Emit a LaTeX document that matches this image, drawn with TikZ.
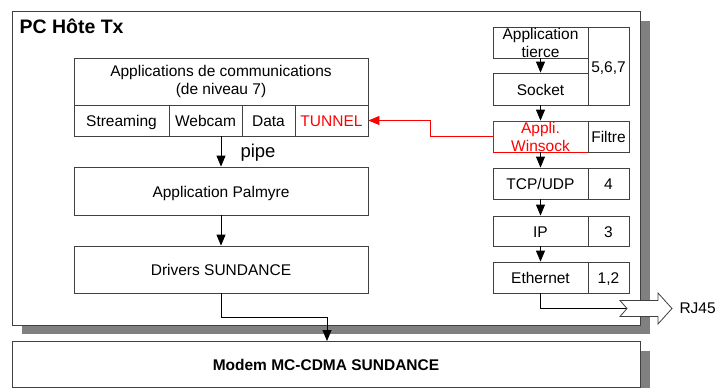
\documentclass[tikz,border=0pt]{standalone}
\usepackage{fontspec}
\setmainfont{Liberation Sans}
\usetikzlibrary{arrows.meta}

\definecolor{cadre}{HTML}{404040}
\definecolor{ombre}{HTML}{808080}

\begin{document}
\begin{tikzpicture}[x=1pt, y=-1pt,
    every node/.style={font=\fontsize{15.5}{18}\selectfont},
    boite/.style={draw=cadre, line width=0.8pt, fill=white, inner sep=0pt, align=center},
    cellule/.style={boite, text height=14pt, text depth=2pt},
    fleche/.style={-{Triangle[length=11pt,width=9pt]}, line width=0.8pt},
    lien/.style={line width=0.8pt}]
    \useasboundingbox (0,0) rectangle (716,388);

    % PC box and its shadow
    \fill[ombre] (22,21) rectangle (650,334);
    \draw[boite] (12,11) rectangle (640,325);
    \node[anchor=west, font=\bfseries\fontsize{19.5}{22}\selectfont] (titre) at (16,26) {PC Hôte Tx};

    % Modem
    \fill[ombre] (22,351) rectangle (650,388);
    \node[cellule, minimum width=628pt, minimum height=46pt, font=\bfseries\fontsize{15.5}{18}\selectfont] (modem) at (326,364) {Modem MC-CDMA SUNDANCE};

    % Left column
    \node[boite, minimum width=294pt, minimum height=47pt] (apps) at (221,81.5) {Applications de communications\\(de niveau 7)};
    \node[cellule, minimum width=95pt, minimum height=31pt] (streaming) at (121.5,120.5) {Streaming};
    \node[cellule, minimum width=73pt, minimum height=31pt] (webcam) at (205.5,120.5) {Webcam};
    \node[cellule, minimum width=53pt, minimum height=31pt] (data) at (268.5,120.5) {Data};
    \node[cellule, minimum width=73pt, minimum height=31pt, text=red] (tunnel) at (331.5,120.5) {TUNNEL};
    \node[cellule, minimum width=294pt, minimum height=48pt] (palmyre) at (221,191) {Application Palmyre};
    \node[cellule, minimum width=294pt, minimum height=47pt] (drivers) at (221,269.5) {Drivers SUNDANCE};
    \node[font=\fontsize{18.5}{20}\selectfont] (pipe) at (258,153) {pipe};

    % Right stack
    \node[boite, minimum width=95pt, minimum height=31pt] (tierce) at (540.5,42.5) {Application\\tierce};
    \node[cellule, minimum width=41pt, minimum height=78pt] (c567) at (608.5,66) {5,6,7};
    \node[cellule, minimum width=95pt, minimum height=32pt] (socket) at (540.5,89) {Socket};
    \node[boite, minimum width=95pt, minimum height=31pt, draw=red, text=red] (winsock) at (540.5,136.5) {Appli.\\Winsock};
    \node[cellule, minimum width=41pt, minimum height=31pt] (filtre) at (608.5,136.5) {Filtre};
    \node[cellule, minimum width=95pt, minimum height=31pt] (tcp) at (540.5,183.5) {TCP/UDP};
    \node[cellule, minimum width=41pt, minimum height=31pt] (c4) at (608.5,183.5) {4};
    \node[cellule, minimum width=95pt, minimum height=30pt] (ip) at (540.5,231) {IP};
    \node[cellule, minimum width=41pt, minimum height=30pt] (c3) at (608.5,231) {3};
    \node[cellule, minimum width=95pt, minimum height=31pt] (eth) at (540.5,277.5) {Ethernet};
    \node[cellule, minimum width=41pt, minimum height=31pt] (c12) at (608.5,277.5) {1,2};

    % Connectors
    \draw[fleche] (webcam.south -| apps.south) -- (palmyre);
    \draw[fleche] (palmyre) -- (drivers);
    \coordinate (entree) at (327,341);
    \draw[fleche] (drivers.south) -- ++(0,24) -| (entree);
    \foreach \a/\b in {tierce/socket, socket/winsock, winsock/tcp, tcp/ip, ip/eth}
        \draw[fleche] (\a) -- (\b);
    \draw[fleche, red] (winsock.west) -- ++(-62,0) |- (tunnel.east);

    % RJ45 output
    \coordinate (queue) at (627,308.5);
    \draw[lien] (eth.south) |- (queue);
    \filldraw[draw=cadre, fill=white, line width=0.8pt] (620,300.5) -- (queue) -- (620,316.5) -- (658,316.5)
        -- (658,324) -- (672,308.5) -- (658,293) -- (658,300.5) -- cycle;
    \node[anchor=west] (rj45) at (676,308.5) {RJ45};
\end{tikzpicture}
\end{document}
